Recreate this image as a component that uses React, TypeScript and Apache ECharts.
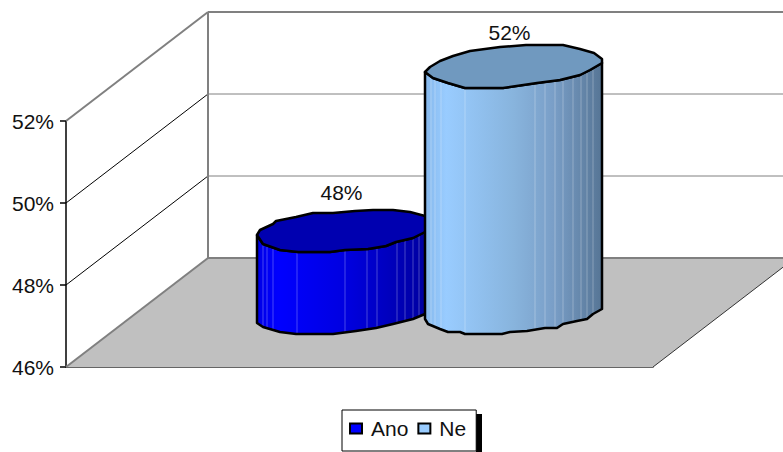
import React, { useEffect, useRef } from "react";
import * as echarts from "echarts";

const seriesNames = ["Ano", "Ne"];
const seriesValues = [48, 52];
const tickValues = [46, 48, 50, 52];
const FONT = "'Liberation Sans', Arial, sans-serif";

// Hand-faceted outlines of each cylinder, in px from the left edge and the lowest point.
const capFrontLeft = [[0,-17],[6,-8],[23,-2],[41,0],[73,0],[88,-2],[111,-3],[129,-6],[139,-10],[156,-14],[168,-20],[177,-28]];
const capBackLeft = [[177,-28],[168,-36],[153,-40],[136,-42],[116,-42],[98,-41],[76,-39],[56,-39],[39,-35],[19,-31],[16,-28],[3,-22],[0,-17]];
const baseFrontLeft = [[0,-11],[6,-7],[23,-2],[39,0],[76,0],[99,-3],[119,-6],[136,-10],[156,-15],[168,-20],[177,-24]];
const capFrontRight = [[0,-16],[8,-10],[23,-5],[40,0],[78,0],[112,-5],[135,-8],[155,-13],[165,-18],[177,-25]];
const capBackRight = [[177,-25],[177,-29],[169,-35],[155,-39],[138,-43],[101,-43],[75,-41],[45,-37],[28,-32],[15,-27],[5,-21],[0,-16]];
const baseFrontRight = [[0,-15],[3,-10],[15,-5],[23,-2],[35,-2],[40,0],[77,0],[85,-2],[102,-3],[120,-6],[132,-6],[138,-10],[152,-13],[162,-15],[168,-20],[177,-25]];
const seamsLeft = [6,10,16,40,88,110,120,140,148,156,162];
const seamsRight = [6,10,16,40,110,120,130,138,148,156,162,168];

const looks = [
  {
    capFront: capFrontLeft, capBack: capBackLeft, baseFront: baseFrontLeft, seams: seamsLeft,
    cap: "#0000b0", legend: "#0000ff", labelLift: 59.5,
    side: [[0,"#0000e6"],[0.12,"#0000ff"],[0.5,"#0000e0"],[1,"#00009a"]],
  },
  {
    capFront: capFrontRight, capBack: capBackRight, baseFront: baseFrontRight, seams: seamsRight,
    cap: "#7099bf", legend: "#99ccff", labelLift: 55.5,
    side: [[0,"#86b8ec"],[0.12,"#99ccff"],[0.5,"#88b4dd"],[0.72,"#7a9fc8"],[1,"#567595"]],
  },
];

const CYL_WIDTH = 177;
const CYL_SPREAD = 84;
const DEPTH_X = 142;
const DEPTH_Y = 109;
const MID_DEPTH_X = 70;
const MID_DEPTH_Y = 33;
const GRAY = "#808080";

const yOn = (outline: number[][], dx: number) => {
  for (let i = 1; i < outline.length; i++) {
    const [x0, y0] = outline[i - 1];
    const [x1, y1] = outline[i];
    if (dx <= x1) return y0 + ((y1 - y0) * (dx - x0)) / (x1 - x0 || 1);
  }
  return outline[outline.length - 1][1];
};

// Back wall, side wall and floor for one value-axis tick.
const renderWall = (params: any, api: any) => {
  const tick = api.value(1);
  const top = api.coord([0, tick])[1];
  const sys = params.coordSys;
  const x0 = sys.x;
  const x1 = sys.x + sys.width;
  const edge = tick === tickValues[0] || tick === tickValues[tickValues.length - 1];
  const children: any[] = [];
  if (tick === tickValues[0]) {
    children.push({
      type: "polygon",
      shape: { points: [[x0, top], [x0 + DEPTH_X, top - DEPTH_Y], [x1 + DEPTH_X, top - DEPTH_Y], [x1, top]] },
      style: { fill: "#c0c0c0" },
    });
    children.push({
      type: "line",
      shape: { x1, y1: top, x2: x1 + DEPTH_X, y2: top - DEPTH_Y },
      style: { stroke: "#333333", lineWidth: 1 },
    });
  }
  children.push({
    type: "line",
    shape: { x1: x0, y1: top, x2: x0 + DEPTH_X, y2: top - DEPTH_Y },
    style: { stroke: edge ? GRAY : "#000000", lineWidth: edge ? 2 : 1 },
  });
  children.push({
    type: "line",
    shape: { x1: x0 + DEPTH_X, y1: top - DEPTH_Y, x2: x1 + DEPTH_X, y2: top - DEPTH_Y },
    style: { stroke: GRAY, lineWidth: edge ? 2 : 1 },
  });
  if (tick === tickValues[tickValues.length - 1]) {
    const floor = api.coord([0, tickValues[0]])[1];
    children.push({
      type: "line",
      shape: { x1: x0 + DEPTH_X, y1: top - DEPTH_Y, x2: x0 + DEPTH_X, y2: floor - DEPTH_Y },
      style: { stroke: GRAY, lineWidth: 2 },
    });
  }
  return { type: "group", children };
};

// One faceted cylinder rising from the floor to its value, with its value label.
const renderCylinder = (index: number) => (_params: any, api: any) => {
  const look = looks[index];
  const value = api.value(1);
  const [cx, vy] = api.coord([0, value]);
  const base = api.coord([0, tickValues[0]])[1];
  const left = cx + MID_DEPTH_X + (index === 0 ? -CYL_SPREAD : CYL_SPREAD) - CYL_WIDTH / 2;
  const topY = vy - MID_DEPTH_Y;
  const baseY = base - MID_DEPTH_Y;
  const at = (pts: number[][], y: number) => pts.map(([dx, dy]) => [left + dx, y + dy]);
  const sidePoints = [...at(look.capFront, topY), ...at(look.baseFront, baseY).reverse()];
  const seams = look.seams.map((dx: number) => ({
    type: "line",
    shape: {
      x1: left + dx, y1: topY + yOn(look.capFront, dx),
      x2: left + dx, y2: baseY + yOn(look.baseFront, dx),
    },
    style: { stroke: "rgba(255,255,255,0.28)", lineWidth: 1 },
  }));
  return {
    type: "group",
    children: [
      {
        type: "polygon",
        shape: { points: sidePoints },
        style: {
          fill: new echarts.graphic.LinearGradient(0, 0, 1, 0,
            look.side.map(([offset, color]) => ({ offset: offset as number, color: color as string }))),
        },
      },
      ...seams,
      {
        type: "polygon",
        shape: { points: sidePoints },
        style: { fill: "none", stroke: "#000000", lineWidth: 2.5, lineJoin: "round" },
      },
      {
        type: "polygon",
        shape: { points: [...at(look.capFront, topY), ...at(look.capBack, topY)] },
        style: { fill: look.cap, stroke: "#000000", lineWidth: 2.5, lineJoin: "round" },
      },
      {
        type: "text",
        style: {
          x: left + CYL_WIDTH / 2 - 4,
          y: topY - look.labelLift,
          text: `${value}%`,
          fill: "#111111",
          font: `21px ${FONT}`,
          align: "center",
          verticalAlign: "middle",
        },
      },
    ],
  };
};

export default function App() {
  const ref = useRef<HTMLDivElement>(null);
  useEffect(() => {
    const chart = echarts.init(ref.current!, null, { renderer: "svg" });
    chart.setOption({
      animation: false,
      backgroundColor: "#ffffff",
      grid: { left: 66, top: 121, width: 587, height: 246, containLabel: false },
      xAxis: {
        type: "category",
        data: [""],
        axisTick: { show: false },
        axisLabel: { show: false },
        axisLine: { lineStyle: { color: "#333333", width: 1.5 } },
      },
      yAxis: {
        type: "value",
        min: tickValues[0],
        max: tickValues[tickValues.length - 1],
        interval: 2,
        axisLine: { show: true, onZero: false, lineStyle: { color: "#000000", width: 1.5 } },
        axisTick: { show: true, length: 6, lineStyle: { color: "#000000", width: 1.5 } },
        splitLine: { show: false },
        axisLabel: {
          formatter: "{value}%",
          margin: 12,
          color: "#111111",
          fontFamily: FONT,
          fontSize: 21,
        },
      },
      legend: {
        data: seriesNames.map((name, i) => ({
          name,
          icon: "rect",
          itemStyle: { color: looks[i].legend, borderColor: "#000000", borderWidth: 2 },
        })),
        left: 342,
        top: 410,
        orient: "horizontal",
        padding: [8, 10, 12, 7],
        itemWidth: 12,
        itemHeight: 10,
        itemGap: 9,
        backgroundColor: "#ffffff",
        borderColor: "#000000",
        borderWidth: 1,
        borderRadius: 0,
        selectedMode: false,
        textStyle: { fontFamily: FONT, fontSize: 21, color: "#111111", padding: [0, 0, 0, 4] },
      },
      graphic: [
        { type: "rect", shape: { x: 476, y: 414, width: 6, height: 38 }, style: { fill: "#000000" }, silent: true },
      ],
      series: [
        {
          type: "custom",
          name: "walls",
          coordinateSystem: "cartesian2d",
          renderItem: renderWall,
          clip: false,
          silent: true,
          z: 1,
          data: tickValues.map((t) => [0, t]),
          encode: { x: 0, y: 1 },
        },
        ...seriesNames.map((name, i) => ({
          type: "custom",
          name,
          coordinateSystem: "cartesian2d",
          renderItem: renderCylinder(i),
          clip: false,
          silent: true,
          z: 3 + i,
          itemStyle: { color: looks[i].legend },
          data: [[0, seriesValues[i]]],
          encode: { x: 0, y: 1 },
        })),
      ],
    });
    return () => chart.dispose();
  }, []);
  return <div ref={ref} style={{ position: "absolute", left: 0, top: 0, width: 783, height: 452 }} />;
}
